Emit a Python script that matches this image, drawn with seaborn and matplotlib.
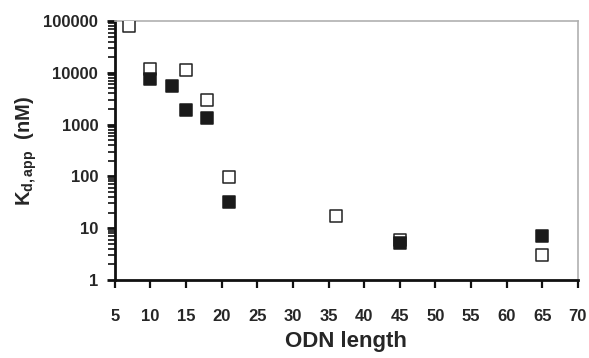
import matplotlib
matplotlib.use("Agg")
import matplotlib.pyplot as plt
import matplotlib.ticker as mticker
import seaborn as sns
import pandas as pd

open_len = [7, 10, 15, 18, 21, 36, 45, 65]
open_kd = [80000, 12000, 11500, 2950, 98, 17.5, 5.8, 3.1]
filled_len = [10, 13, 15, 18, 21, 45, 65]
filled_kd = [7600, 5600, 1950, 1320, 32, 5.2, 7.2]
x_ticks = [5, 10, 15, 20, 25, 30, 35, 40, 45, 50, 55, 60, 65, 70]
y_ticks = [1, 10, 100, 1000, 10000, 100000]

sns.set_style("white")
plt.rcParams['font.family'] = ['Liberation Sans', 'DejaVu Sans']
plt.rcParams['mathtext.fontset'] = 'custom'
plt.rcParams['mathtext.rm'] = 'Liberation Sans:bold'
plt.rcParams['mathtext.it'] = 'Liberation Sans:bold'
plt.rcParams['mathtext.bf'] = 'Liberation Sans:bold'

df_open = pd.DataFrame({"len": open_len, "kd": open_kd})
df_filled = pd.DataFrame({"len": filled_len, "kd": filled_kd})

fig = plt.figure(figsize=(5.89, 3.58), dpi=100)
ax = fig.add_axes([0.195, 0.218, 0.786, 0.723])

sns.scatterplot(data=df_open, x="len", y="kd", marker="s", s=72,
                facecolor="white", edgecolor="#222222", linewidth=1.1, ax=ax, zorder=3)
sns.scatterplot(data=df_filled, x="len", y="kd", marker="s", s=72,
                color="#1a1a1a", edgecolor="#1a1a1a", linewidth=1.1, ax=ax, zorder=4)

ax.set_yscale("log")
ax.set_xlim(5, 70)
ax.set_ylim(1, 100000)
ax.set_xticks(x_ticks)
ax.set_yticks(y_ticks)
ax.yaxis.set_major_formatter(mticker.FuncFormatter(lambda v, p: f"{int(round(v))}"))
ax.yaxis.set_minor_locator(mticker.LogLocator(base=10, subs=range(2, 10)))
ax.yaxis.set_minor_formatter(mticker.NullFormatter())
ax.xaxis.set_minor_locator(mticker.NullLocator())

for lab in ax.get_xticklabels() + ax.get_yticklabels():
    lab.set_fontweight("bold")
    lab.set_fontsize(12)

ax.tick_params(axis="x", which="major", direction="out", length=6, width=1.6,
               color="#111111", pad=15, bottom=True)
ax.tick_params(axis="y", which="major", direction="out", length=6, width=2,
               color="#111111", pad=6, left=True)
ax.tick_params(axis="y", which="minor", direction="out", length=5, width=1.2,
               color="#111111", left=True)

for side in ["left", "bottom"]:
    ax.spines[side].set_color("#111111")
    ax.spines[side].set_linewidth(2)
for side in ["top", "right"]:
    ax.spines[side].set_color("#b0b0b0")
    ax.spines[side].set_linewidth(1.2)
    ax.spines[side].set_visible(True)

ax.set_xlabel("ODN length", fontsize=16, fontweight="bold", labelpad=5)
ax.set_ylabel(r"K$_{\mathregular{d,app}}$  (nM)", fontsize=14.5, fontweight="bold", labelpad=3)
ax.grid(False)

fig.savefig("out.png", dpi=100)
